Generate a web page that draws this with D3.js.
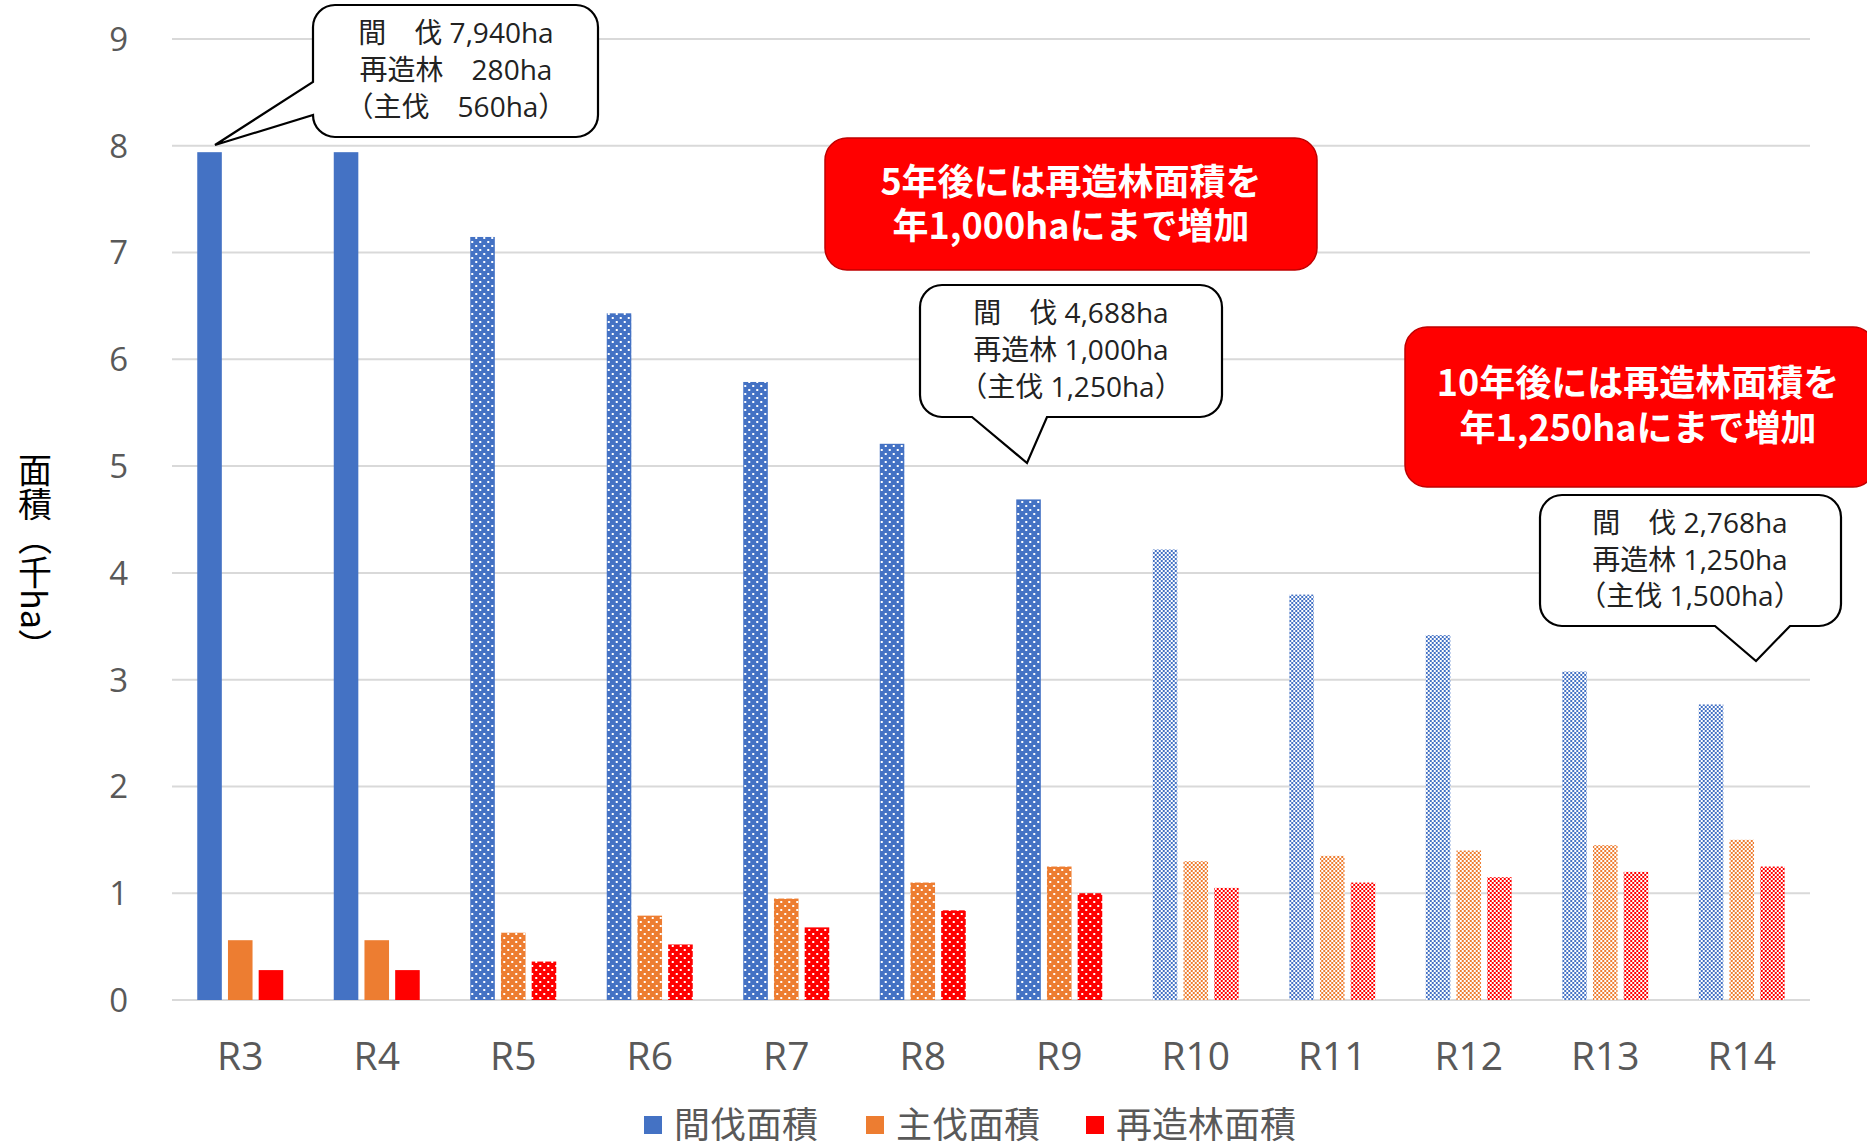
<!DOCTYPE html>
<html>
<head>
<meta charset="utf-8">
<script src="https://cdn.jsdelivr.net/npm/d3@7"></script>
<style>
  body { margin: 0; background: #fff; }
  svg { display: block; }
</style>
</head>
<body>
<div class="canvas"></div>
<script>
// data (千ha)
const categories = ["R3", "R4", "R5", "R6", "R7", "R8", "R9", "R10", "R11", "R12", "R13", "R14"];
const thinning = [7.94, 7.94, 7.146, 6.431, 5.788, 5.209, 4.688, 4.219, 3.797, 3.417, 3.076, 2.768];
const harvest = [0.56, 0.56, 0.63, 0.79, 0.95, 1.10, 1.25, 1.30, 1.35, 1.40, 1.45, 1.50];
const replant = [0.28, 0.28, 0.36, 0.52, 0.68, 0.84, 1.00, 1.05, 1.10, 1.15, 1.20, 1.25];
const seriesNames = ["間伐面積", "主伐面積", "再造林面積"];
const yTicks = [0, 1, 2, 3, 4, 5, 6, 7, 8, 9];

const callouts = [
  ["間　伐 7,940ha", "再造林　280ha", "（主伐　560ha）"],
  ["間　伐 4,688ha", "再造林 1,000ha", "（主伐 1,250ha）"],
  ["間　伐 2,768ha", "再造林 1,250ha", "（主伐 1,500ha）"]
];
const notes = [
  ["5年後には再造林面積を", "年1,000haにまで増加"],
  ["10年後には再造林面積を", "年1,250haにまで増加"]
];

const dims = { width: 1867, height: 1142 };
const colors = ["#4472C4", "#ED7D31", "#FF0000"];
const cjk = "'Noto Sans CJK JP', 'Noto Sans', sans-serif";
const latin = "'Open Sans', 'Noto Sans', sans-serif";
const mixed = "'Open Sans', 'Noto Sans CJK JP', sans-serif";

const svg = d3
  .select(".canvas")
  .append("svg")
  .attr("width", dims.width)
  .attr("height", dims.height);

svg.append("rect").attr("width", dims.width).attr("height", dims.height).attr("fill", "#fff");

const x0 = d3
  .scaleBand()
  .domain(categories)
  .range([172, 1810])
  .paddingInner(0.37)
  .paddingOuter(0.185);

const x1 = d3
  .scaleBand()
  .domain(seriesNames)
  .range([0, x0.bandwidth()])
  .paddingInner(0.2);

const y = d3.scaleLinear().domain([0, 9]).range([1000, 39]);

// patterns: solid (実績), dotted (R5-R9), checker (R10-R14)
const defs = svg.append("defs");
colors.forEach((c, k) => {
  const dot = defs
    .append("pattern")
    .attr("id", `dot${k}`)
    .attr("patternUnits", "userSpaceOnUse")
    .attr("width", 8)
    .attr("height", 8);
  dot.append("rect").attr("width", 8).attr("height", 8).attr("fill", c);
  dot.append("rect").attr("x", 1).attr("y", 1).attr("width", 2).attr("height", 2).attr("fill", "#fff");
  dot.append("rect").attr("x", 5).attr("y", 5).attr("width", 2).attr("height", 2).attr("fill", "#fff");

  const chk = defs
    .append("pattern")
    .attr("id", `chk${k}`)
    .attr("patternUnits", "userSpaceOnUse")
    .attr("width", 4)
    .attr("height", 4);
  chk.append("rect").attr("width", 4).attr("height", 4).attr("fill", "#fff");
  chk.append("rect").attr("width", 2).attr("height", 2).attr("fill", c);
  chk.append("rect").attr("x", 2).attr("y", 2).attr("width", 2).attr("height", 2).attr("fill", c);
});

const fillFor = (i, k) => {
  if (i < 2) return colors[k];
  if (i < 7) return `url(#dot${k})`;
  return `url(#chk${k})`;
};

// gridlines
svg
  .append("g")
  .selectAll("line")
  .data(yTicks)
  .enter()
  .append("line")
  .attr("x1", 172)
  .attr("x2", 1810)
  .attr("y1", (d) => y(d))
  .attr("y2", (d) => y(d))
  .attr("stroke", "#d9d9d9")
  .attr("stroke-width", 2);

// y tick labels
svg
  .append("g")
  .selectAll("text")
  .data(yTicks)
  .enter()
  .append("text")
  .attr("x", 128)
  .attr("y", (d) => y(d))
  .attr("dy", "0.36em")
  .attr("text-anchor", "end")
  .attr("font-family", latin)
  .attr("font-size", 33)
  .attr("fill", "#595959")
  .text((d) => d);

// x labels
svg
  .append("g")
  .selectAll("text")
  .data(categories)
  .enter()
  .append("text")
  .attr("x", (d) => x0(d) + x0.bandwidth() / 2)
  .attr("y", 1056)
  .attr("dy", "0.36em")
  .attr("text-anchor", "middle")
  .attr("font-family", latin)
  .attr("font-size", 39)
  .attr("fill", "#595959")
  .text((d) => d);

// bars
const rows = categories.map((c, i) => ({
  cat: c,
  i,
  vals: [thinning[i], harvest[i], replant[i]]
}));

const groups = svg
  .append("g")
  .selectAll("g")
  .data(rows)
  .enter()
  .append("g")
  .attr("transform", (d) => `translate(${x0(d.cat)},0)`);

groups
  .selectAll("rect")
  .data((d) => d.vals.map((v, k) => ({ v, k, i: d.i })))
  .enter()
  .append("rect")
  .attr("x", (d) => x1(seriesNames[d.k]))
  .attr("width", x1.bandwidth())
  .attr("y", (d) => y(d.v))
  .attr("height", (d) => y(0) - y(d.v))
  .attr("fill", (d) => fillFor(d.i, d.k));

// y axis title (vertical)
svg
  .append("text")
  .attr("x", 35)
  .attr("y", 558)
  .attr("text-anchor", "middle")
  .attr("font-family", cjk)
  .attr("font-size", 34)
  .attr("fill", "#000")
  .style("writing-mode", "vertical-rl")
  .text("面積（千ha）");

// legend
const legendX = [644, 866, 1086];
const legend = svg
  .append("g")
  .selectAll("g")
  .data(seriesNames)
  .enter()
  .append("g")
  .attr("transform", (d, k) => `translate(${legendX[k]},1125)`);

legend
  .append("rect")
  .attr("y", -9)
  .attr("width", 18)
  .attr("height", 18)
  .attr("fill", (d, k) => colors[k]);

legend
  .append("text")
  .attr("x", 30)
  .attr("dy", "0.36em")
  .attr("font-family", cjk)
  .attr("font-size", 36)
  .attr("fill", "#595959")
  .text((d) => d);

// callout shapes
const calloutPath = (b) => {
  const { x, y: top, w, h, r } = b;
  const p = d3.path();
  p.moveTo(x + r, top);
  p.lineTo(x + w - r, top);
  p.arcTo(x + w, top, x + w, top + r, r);
  p.lineTo(x + w, top + h - r);
  p.arcTo(x + w, top + h, x + w - r, top + h, r);
  if (b.side === "bottom") {
    p.lineTo(b.p2, top + h);
    p.lineTo(b.tip[0], b.tip[1]);
    p.lineTo(b.p1, top + h);
  }
  p.lineTo(x + r, top + h);
  p.arcTo(x, top + h, x, top + h - r, r);
  if (b.side === "left") {
    p.lineTo(x, b.p2);
    p.lineTo(b.tip[0], b.tip[1]);
    p.lineTo(x, b.p1);
  }
  p.lineTo(x, top + r);
  p.arcTo(x, top, x + r, top, r);
  p.closePath();
  return p.toString();
};

const boxes = [
  { x: 313, y: 5, w: 285, h: 132, r: 22, side: "left", p1: 82, p2: 115, tip: [215, 145], cx: 456, ly: [33, 70, 107] },
  { x: 920, y: 285, w: 302, h: 132, r: 22, side: "bottom", p1: 972, p2: 1047, tip: [1027, 463], cx: 1071, ly: [313, 350, 387] },
  { x: 1540, y: 495, w: 301, h: 131, r: 22, side: "bottom", p1: 1715, p2: 1790, tip: [1756, 661], cx: 1690, ly: [523, 560, 596] }
];

boxes.forEach((b, j) => {
  svg
    .append("path")
    .attr("d", calloutPath(b))
    .attr("fill", "#fff")
    .attr("stroke", "#000")
    .attr("stroke-width", 2.2)
    .attr("stroke-linejoin", "miter");
  svg
    .append("g")
    .selectAll("text")
    .data(callouts[j])
    .enter()
    .append("text")
    .attr("x", b.cx)
    .attr("y", (d, i) => b.ly[i])
    .attr("dy", "0.36em")
    .attr("text-anchor", "middle")
    .attr("font-family", mixed)
    .attr("font-size", 28)
    .attr("fill", "#222")
    .text((d) => d);
});

// red notes
const redBoxes = [
  { x: 825, y: 138, w: 492, h: 132, cx: 1071, ly: [182, 226] },
  { x: 1405, y: 327, w: 470, h: 160, cx: 1638, ly: [383, 428] }
];

redBoxes.forEach((b, j) => {
  svg
    .append("rect")
    .attr("x", b.x)
    .attr("y", b.y)
    .attr("width", b.w)
    .attr("height", b.h)
    .attr("rx", 22)
    .attr("fill", "#FF0000")
    .attr("stroke", "#C00000")
    .attr("stroke-width", 1.5);
  svg
    .append("g")
    .selectAll("text")
    .data(notes[j])
    .enter()
    .append("text")
    .attr("x", b.cx)
    .attr("y", (d, i) => b.ly[i])
    .attr("dy", "0.36em")
    .attr("text-anchor", "middle")
    .attr("font-family", cjk)
    .attr("font-weight", 700)
    .attr("font-size", 36)
    .attr("fill", "#fff")
    .text((d) => d);
});
</script>
</body>
</html>
